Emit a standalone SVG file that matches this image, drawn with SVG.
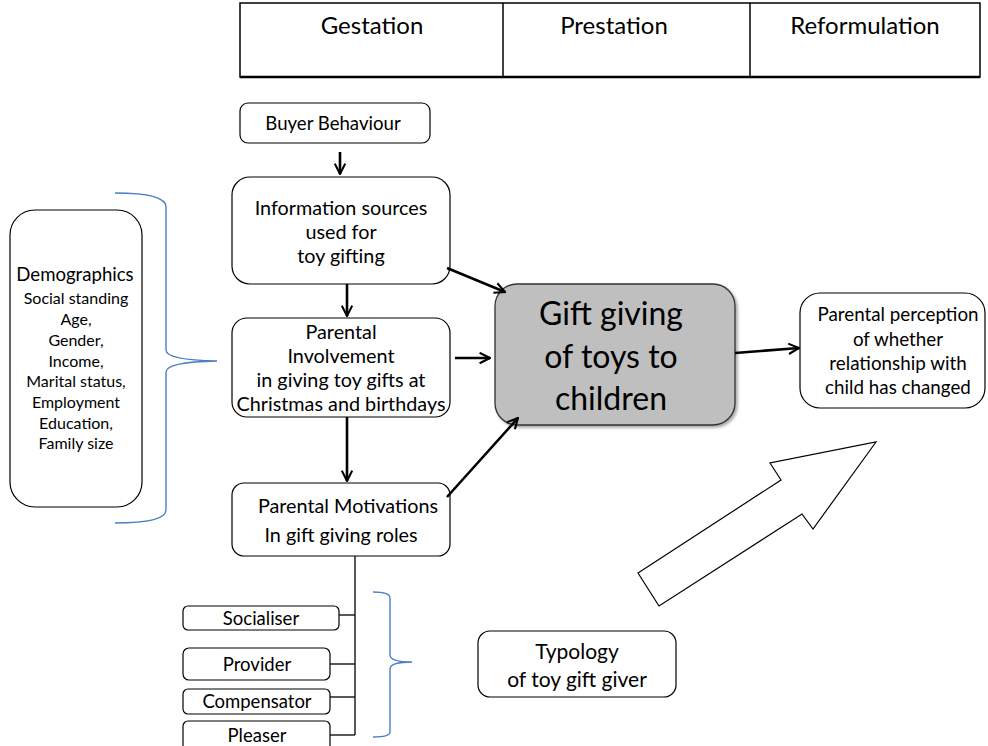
<svg xmlns="http://www.w3.org/2000/svg" width="988" height="746" viewBox="0 0 988 746">
  <style>
    text { font-family: Lato, "Open Sans", "Liberation Sans", sans-serif; fill: #000; text-anchor: middle; }
    .box { fill: #fff; stroke: #000; stroke-width: 1.2; }
    .grid { stroke: #000; stroke-width: 1.5; fill: none; }
    .arrow { stroke: #000; stroke-width: 2.6; fill: none; marker-end: url(#head); }
    .tree { stroke: #000; stroke-width: 1.3; fill: none; }
    .brace { stroke: #4a7ec4; stroke-width: 1.4; fill: none; }
    .t18 { font-size: 18.6px; }
    .t20 { font-size: 19.8px; }
    .role { font-size: 18.5px; }
  </style>
  <defs>
    <marker id="head" viewBox="0 0 10 10" refX="9" refY="5" markerWidth="5" markerHeight="5" orient="auto" markerUnits="strokeWidth">
      <path d="M1,1 L9,5 L1,9" fill="none" stroke="#000" stroke-width="1.6"/>
    </marker>
    <filter id="shadow" x="-10%" y="-10%" width="125%" height="125%">
      <feDropShadow dx="2" dy="2" stdDeviation="1.5" flood-color="#000" flood-opacity="0.35"/>
    </filter>
  </defs>

  <!-- phase table -->
  <g id="phases">
    <rect x="240" y="3" width="740" height="74" class="grid"/>
    <line x1="240" y1="77" x2="980" y2="77" stroke="#000" stroke-width="2.5"/>
    <line x1="503" y1="3" x2="503" y2="77" class="grid"/>
    <line x1="750" y1="3" x2="750" y2="77" class="grid"/>
    <text x="372" y="34" font-size="24">Gestation</text>
    <text x="614" y="34" font-size="24">Prestation</text>
    <text x="865" y="34" font-size="24">Reformulation</text>
  </g>

  <g id="buyer">
    <rect x="240" y="103" width="190" height="40" rx="8" class="box"/>
    <text x="333" y="130" class="t18">Buyer Behaviour</text>
  </g>

  <g id="info">
    <rect x="232" y="177" width="218" height="107" rx="18" class="box"/>
    <text x="341" y="215" class="t20">Information sources</text>
    <text x="341" y="239" class="t20">used for</text>
    <text x="341" y="263" class="t20">toy gifting</text>
  </g>

  <g id="involvement">
    <rect x="232" y="318" width="218" height="99" rx="15" class="box"/>
    <text x="341" y="339" class="t20">Parental</text>
    <text x="341" y="363" class="t20">Involvement</text>
    <text x="341" y="387" class="t20">in giving toy gifts at</text>
    <text x="341" y="411" class="t20">Christmas and birthdays</text>
  </g>

  <g id="motivations">
    <rect x="232" y="483" width="218" height="73" rx="12" class="box"/>
    <text x="348" y="513" class="t20">Parental Motivations</text>
    <text x="341" y="542" class="t20">In gift giving roles</text>
  </g>

  <g id="demographics">
    <rect x="10" y="210" width="132" height="297" rx="25" class="box"/>
    <text x="75" y="281" font-size="18.6">Demographics</text>
    <text x="76" y="304" font-size="16">Social standing</text>
    <text x="76" y="325" font-size="16">Age,</text>
    <text x="76" y="346" font-size="16">Gender,</text>
    <text x="76" y="367" font-size="16">Income,</text>
    <text x="76" y="387" font-size="16">Marital status,</text>
    <text x="76" y="408" font-size="16">Employment</text>
    <text x="76" y="429" font-size="16">Education,</text>
    <text x="76" y="449" font-size="16">Family size</text>
  </g>

  <g id="gift">
    <rect x="495" y="284" width="240" height="141" rx="22" fill="#bfbfbf" stroke="#333" stroke-width="1.3" filter="url(#shadow)"/>
    <text x="611" y="325" font-size="32">Gift giving</text>
    <text x="611" y="368" font-size="32">of toys to</text>
    <text x="611" y="410" font-size="32">children</text>
  </g>

  <g id="perception">
    <rect x="800" y="293" width="185" height="115" rx="20" class="box"/>
    <text x="898" y="321" font-size="18.8">Parental perception</text>
    <text x="898" y="346" font-size="18.8">of whether</text>
    <text x="898" y="370" font-size="18.8">relationship with</text>
    <text x="898" y="394" font-size="18.8">child has changed</text>
  </g>

  <g id="typology">
    <rect x="478" y="631" width="198" height="66" rx="12" class="box"/>
    <text x="577" y="659" font-size="21">Typology</text>
    <text x="577" y="687" font-size="21">of toy gift giver</text>
  </g>

  <g id="socialiser">
    <rect x="183" y="606" width="156" height="24" rx="5" class="box"/>
    <text x="261" y="625" class="role">Socialiser</text>
  </g>
  <g id="provider">
    <rect x="183" y="648" width="147" height="32" rx="6" class="box"/>
    <text x="257" y="671" class="role">Provider</text>
  </g>
  <g id="compensator">
    <rect x="183" y="689" width="147" height="25" rx="5" class="box"/>
    <text x="257" y="708" class="role">Compensator</text>
  </g>
  <g id="pleaser">
    <rect x="183" y="721" width="147" height="30" rx="5" class="box"/>
    <text x="257" y="742" class="role">Pleaser</text>
  </g>

  <!-- hollow block arrow pointing up-right -->
  <g id="trend">
    <polygon points="638,573 781,480 770,463 876,442 813,529 802,514 659,606" fill="#fff" stroke="#000" stroke-width="1.2"/>
  </g>

  <g id="connectors">
    <line x1="340" y1="152" x2="340" y2="174" class="arrow"/>
    <line x1="347" y1="284" x2="347" y2="316" class="arrow"/>
    <line x1="347" y1="417" x2="347" y2="481" class="arrow"/>
    <line x1="447" y1="268" x2="505" y2="292" class="arrow"/>
    <line x1="455" y1="358" x2="490" y2="358" class="arrow"/>
    <line x1="447" y1="497" x2="518" y2="418" class="arrow"/>
    <line x1="735" y1="353" x2="799" y2="348" class="arrow"/>
    <!-- role tree -->
    <line x1="355" y1="556" x2="355" y2="735" class="tree"/>
    <line x1="339" y1="615" x2="355" y2="615" class="tree"/>
    <line x1="330" y1="664" x2="355" y2="664" class="tree"/>
    <line x1="330" y1="697" x2="355" y2="697" class="tree"/>
    <line x1="330" y1="735" x2="355" y2="735" class="tree"/>
    <!-- braces -->
    <path d="M115,193 Q166,193 166,207 L166,350 Q166,360 217,361 Q166,362 166,372 L166,510 Q166,523 115,523" class="brace"/>
    <path d="M373,592 Q390,592 390,598 L390,655 Q390,662 412,662 Q390,662 390,669 L390,732 Q390,737 373,737" class="brace"/>
  </g>
</svg>
